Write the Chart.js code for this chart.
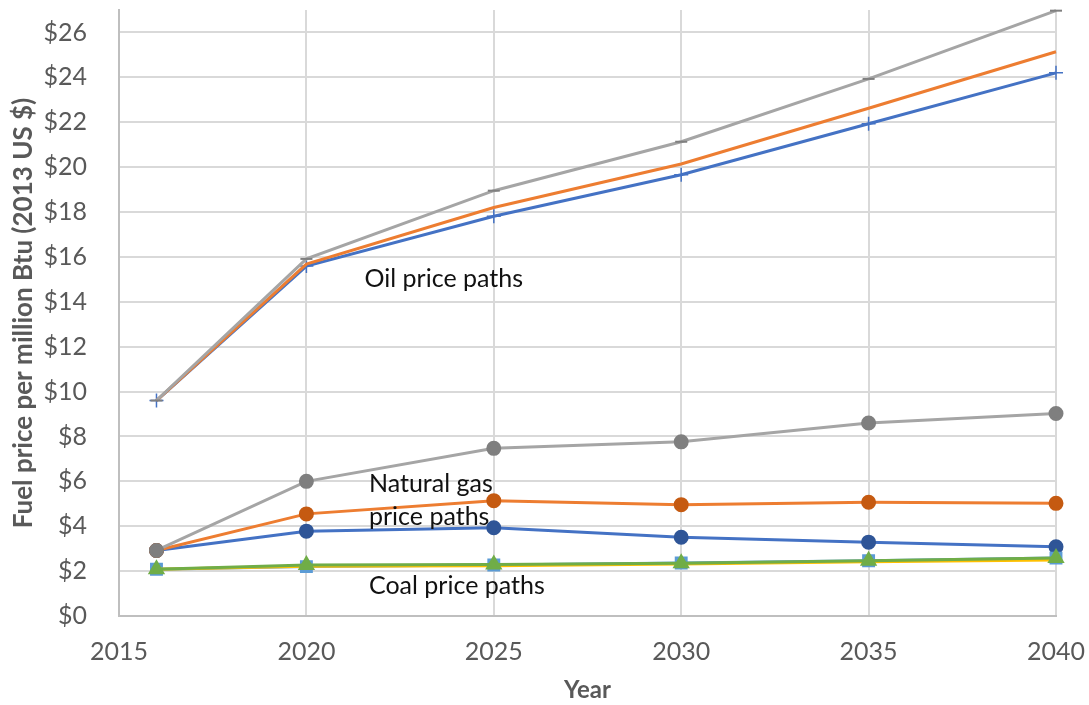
<!DOCTYPE html>
<html>
<head>
<meta charset="utf-8">
<script src="https://cdn.jsdelivr.net/npm/chart.js@4/dist/chart.umd.min.js"></script>
<style>
  html, body { margin: 0; padding: 0; background: #fff; }
  #wrap { width: 1089px; height: 705px; }
</style>
</head>
<body>
<div id="wrap"><canvas id="fuel-chart"></canvas></div>
<script>
// Years on the x axis
const years = [2016, 2020, 2025, 2030, 2035, 2040]
const xTicks = [2015, 2020, 2025, 2030, 2035, 2040]

// Oil price paths ($ per million Btu)
const oilLow  = [9.6, 15.59, 17.81, 19.66, 21.93, 24.2]
const oilMid  = [9.6, 15.68, 18.2, 20.14, 22.62, 25.14]
const oilHigh = [9.6, 15.91, 18.95, 21.13, 23.93, 26.97]

// Natural gas price paths
const gasLow  = [2.92, 3.78, 3.93, 3.51, 3.29, 3.08]
const gasMid  = [2.92, 4.55, 5.14, 4.96, 5.07, 5.02]
const gasHigh = [2.92, 6.0, 7.47, 7.76, 8.6, 9.02]

// Coal price paths
const coalBlue   = [2.08, 2.2, 2.27, 2.36, 2.46, 2.58]
const coalYellow = [2.08, 2.22, 2.24, 2.32, 2.42, 2.5]
const coalGreen  = [2.08, 2.27, 2.3, 2.35, 2.46, 2.58]

// Annotation labels: [text, year, value]
const notes = [
  ['Oil price paths', 2021.55, 15.0],
  ['Natural gas', 2021.67, 5.9],
  ['price paths', 2021.67, 4.4],
  ['Coal price paths', 2021.67, 1.35],
]

const pts = arr => arr.map((v, i) => ({ x: years[i], y: v }))
const FONT = "Lato, 'Open Sans', sans-serif"

const line = (data, color, extra) => ({
  data: pts(data),
  borderColor: color,
  backgroundColor: color,
  borderWidth: 3,
  pointRadius: 0,
  tension: 0,
  clip: false,
  ...extra,
})

const notePlugin = {
  id: 'notes',
  afterDatasetsDraw(chart) {
    const { ctx, scales: { x, y } } = chart
    ctx.save()
    ctx.font = `25px ${FONT}`
    ctx.fillStyle = '#111'
    ctx.textAlign = 'left'
    ctx.textBaseline = 'middle'
    notes.forEach(([t, yr, v]) => ctx.fillText(t, x.getPixelForValue(yr), y.getPixelForValue(v)))
    ctx.restore()
  },
}

new Chart(document.getElementById('fuel-chart'), {
  type: 'line',
  data: {
    datasets: [
      line(coalGreen, '#70ad47', { order: 1, pointStyle: 'triangle', pointRadius: 7, pointBackgroundColor: '#70ad47', pointBorderColor: '#70ad47' }),
      line(coalYellow, '#ffc000', { order: 2 }),
      line(coalBlue, '#5b9bd5', { order: 3, pointStyle: 'rect', pointRadius: 7, pointBackgroundColor: '#5b9bd5', pointBorderColor: '#5b9bd5' }),
      line(gasHigh, '#a5a5a5', { order: 4, pointStyle: 'circle', pointRadius: 6, pointBackgroundColor: '#7f7f7f', pointBorderColor: '#7f7f7f' }),
      line(gasMid, '#ed7d31', { order: 5, pointStyle: 'circle', pointRadius: 6, pointBackgroundColor: '#c55a11', pointBorderColor: '#c55a11' }),
      line(gasLow, '#4472c4', { order: 6, pointStyle: 'circle', pointRadius: 6, pointBackgroundColor: '#2f5597', pointBorderColor: '#2f5597' }),
      line(oilHigh, '#a5a5a5', { order: 7, pointStyle: 'line', pointRadius: 6, pointBorderColor: '#7f7f7f', pointBorderWidth: 2 }),
      line(oilMid, '#ed7d31', { order: 8 }),
      line(oilLow, '#4472c4', { order: 9, pointStyle: 'cross', pointRadius: 7, pointBorderColor: '#4472c4', pointBorderWidth: 1.5 }),
    ],
  },
  options: {
    responsive: true,
    maintainAspectRatio: false,
    animation: false,
    layout: { padding: { top: 8, right: 33, left: 8, bottom: 0 } },
    plugins: { legend: { display: false }, tooltip: { enabled: false } },
    scales: {
      x: {
        type: 'linear',
        min: 2015,
        max: 2040,
        afterBuildTicks: s => { s.ticks = xTicks.map(v => ({ value: v })) },
        afterFit: s => { s.height = 89; s.paddingLeft = 0; s.paddingRight = 0 },
        grid: { color: '#d9d9d9', lineWidth: 2, drawTicks: false },
        border: { color: '#bfbfbf', width: 2 },
        ticks: { color: '#595959', font: { family: FONT, size: 25 }, padding: 21, callback: v => String(v) },
        title: { display: true, text: 'Year', color: '#595959', font: { family: FONT, size: 24, weight: 'bold' }, padding: { top: 0, bottom: 0 } },
      },
      y: {
        min: 0,
        max: 27,
        afterFit: s => { s.width = 111; s.paddingTop = 0; s.paddingBottom = 0 },
        grid: { color: '#d9d9d9', lineWidth: 2, drawTicks: false },
        border: { color: '#bfbfbf', width: 2 },
        ticks: { stepSize: 2, includeBounds: false, color: '#595959', font: { family: FONT, size: 25 }, padding: 32, callback: v => '$' + v },
        title: { display: true, text: 'Fuel price per million Btu (2013 US $)', color: '#595959', font: { family: FONT, size: 26, weight: 'bold' }, padding: { top: 0, bottom: 0 } },
      },
    },
  },
  plugins: [notePlugin],
})
</script>
</body>
</html>
